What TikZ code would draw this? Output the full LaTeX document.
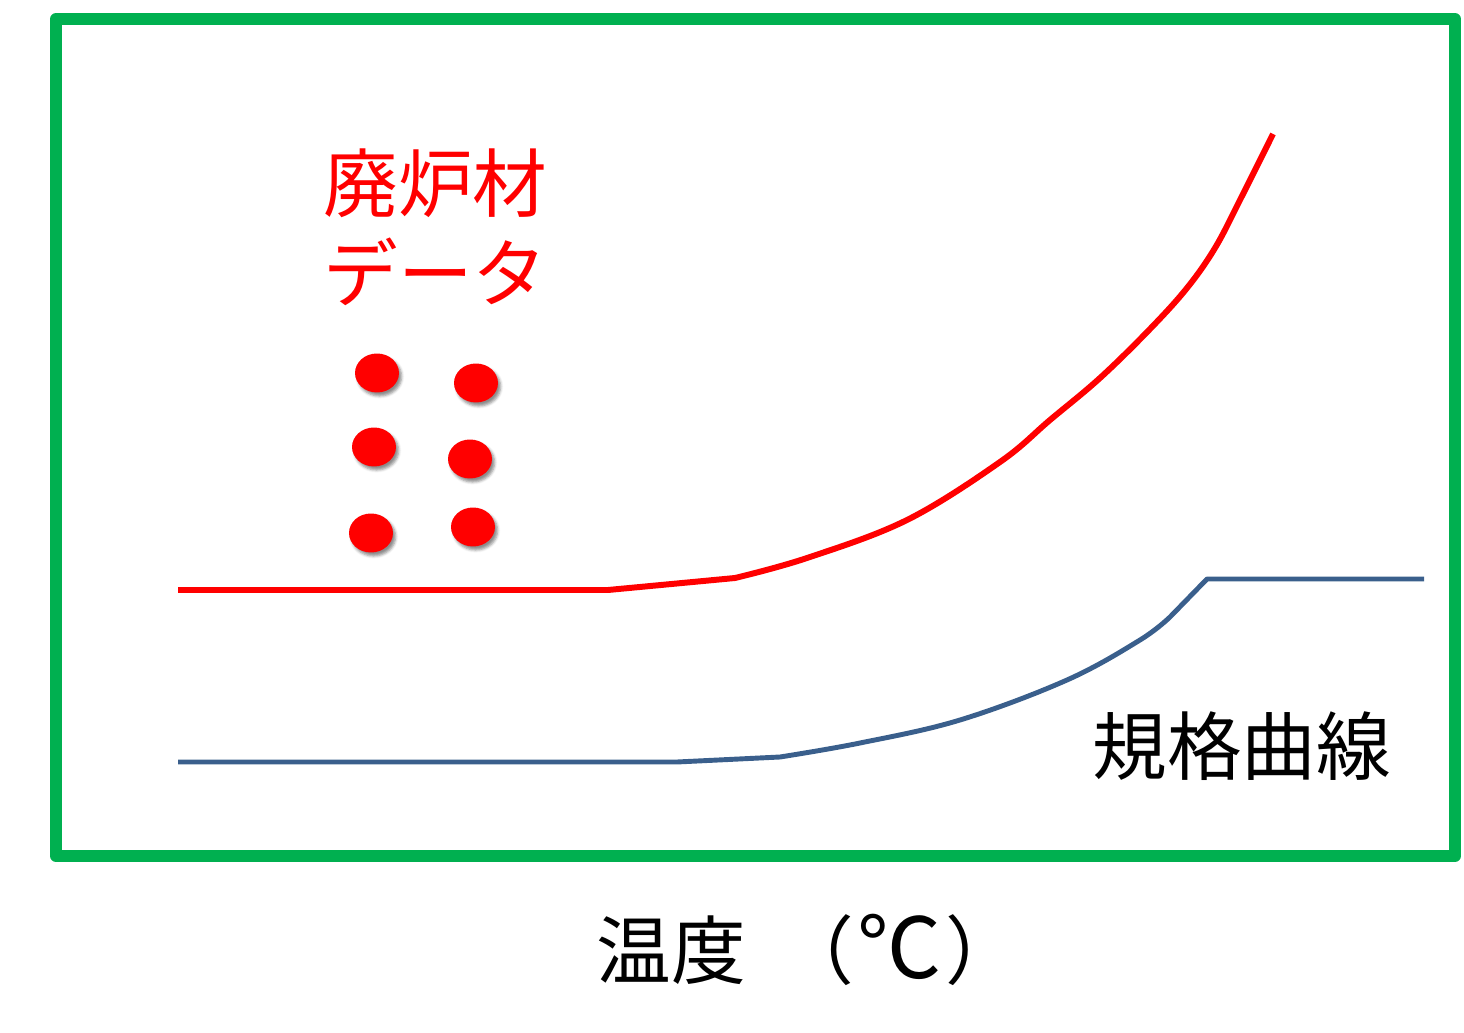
\documentclass[tikz,border=0pt]{standalone}
\usepackage{fontspec}
\newfontfamily\jpfont{Noto Sans CJK JP}
\usepackage{xcolor}
\usepackage{tikz}
\usetikzlibrary{shapes.geometric,shadows.blur,calc}
\definecolor{framegreen}{RGB}{0,176,80}
\definecolor{curveblue}{RGB}{58,95,140}

\begin{document}
\begin{tikzpicture}
	[x=0.02cm,y=-0.02cm,
	pt/.style={ellipse,fill=red,draw=none,inner sep=0pt,minimum width=0.88cm,minimum height=0.78cm,
		blur shadow={shadow xshift=1.5pt,shadow yshift=-2pt,shadow blur radius=1.5pt,shadow opacity=45}},
	lbl/.style={inner sep=0pt,font=\jpfont\fontsize{42.5}{51}\selectfont},
	redline/.style={draw=red,line width=3.4pt,line join=round},
	blueline/.style={draw=curveblue,line width=2.8pt,line join=round}]
	\useasboundingbox (0,0) rectangle (1464,1033);
	%%%%% FRAME
	\draw[draw=framegreen,line width=6.8pt,line join=round] (56,19) rectangle (1455,856);
	%%%%% DATA
	\node[lbl,text=red,anchor=base west] (hairo) at (323,212) {廃炉材};
	\node[lbl,text=red,anchor=base west] (deta) at (323,302) {データ};
	\foreach \i/\x/\y in {1/377/373,2/476/383,3/374/447,4/470/459,5/371/533,6/473/527}
	{
	\node[pt] (dat\i) at (\x,\y) {};
	};
	%%%%% CURVES
	\draw[redline] (178,590) -- (608,590) -- (735,578)
		-- plot[smooth,tension=0.6] coordinates {(735,578) (807,558) (907,520)
		(1000,462) (1050,420) (1100,378) (1150,329) (1187,288) (1215,248) (1240,200) (1273,134)};
	\draw[blueline] (178,762) -- (677,762) -- (780,757)
		-- plot[smooth,tension=0.6] coordinates {(780,757) (860,743) (960,720) (1067,680)
		(1140,640) (1170,617)} -- (1207,579) -- (1424,579);
	\node[lbl,anchor=base west] (kikaku) at (1092,774) {規格曲線};
	%%%%% AXIS
	\node[lbl,anchor=base west] (ondo) at (596,978)
		{温度\hspace{0.45em}（\hspace{0.05em}{\fontsize{48}{51}\selectfont ℃}\hspace{0.05em}）};
\end{tikzpicture}
\end{document}
